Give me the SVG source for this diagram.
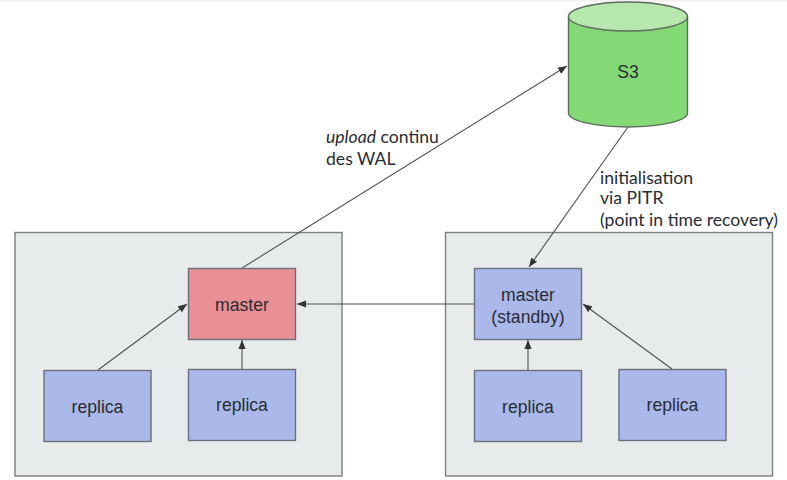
<svg xmlns="http://www.w3.org/2000/svg" width="787" height="480" viewBox="0 0 787 480">
<style>
.bg{fill:#fff}
.zone{fill:#e8ebec;stroke:#7f7f7f;stroke-width:1.4}
.box{stroke:#6b6f7a;stroke-width:1.4}
.blue{fill:#abb9ea}
.red{fill:#e98f96}
.t{font-family:"Liberation Sans",Arial,sans-serif;font-size:17.6px;fill:#282c33;text-anchor:middle}
.l{font-family:Lato,"Liberation Sans",sans-serif;font-size:17.6px;fill:#282c33}
.c{stroke:#4f4f4f;stroke-width:1.1;fill:none;marker-end:url(#a)}
</style>
<defs>
<marker id="a" viewBox="0 0 10 8" refX="10" refY="4" markerUnits="userSpaceOnUse" markerWidth="9" markerHeight="8" orient="auto"><path d="M0 0L10 4L0 8Z" fill="#333"/></marker>
</defs>
<rect class="bg" width="787" height="480"/>
<rect width="787" height="2" fill="#f3f3f3"/>
<g id="zone-left"><rect class="zone" x="15" y="232.500" width="327" height="243.500"/></g>
<g id="zone-right"><rect class="zone" x="445.500" y="232.500" width="327" height="243.500"/></g>
<g id="connectors">
<path class="c" d="M242 268L567 66"/>
<path class="c" d="M628 127L529 267"/>
<path class="c" d="M474 304L297 304"/>
<path class="c" d="M98 370L187 304"/>
<path class="c" d="M242 369L242 340"/>
<path class="c" d="M528 370L528 340"/>
<path class="c" d="M672 369L583 304"/>
</g>
<g id="s3">
<path d="M568.500 16V113A59.500 14 0 0 0 687.500 113V16Z" fill="#84d977" stroke="#5f6b5f" stroke-width="1.400"/>
<ellipse cx="628" cy="16.500" rx="59.500" ry="14.500" fill="#b6e8ae" stroke="#5f6b5f" stroke-width="1.400"/>
<text class="t" x="628" y="78">S3</text>
</g>
<g id="master-left"><rect class="box red" x="188.500" y="268.500" width="107" height="71"/><text class="t" x="242" y="311">master</text></g>
<g id="replica-1"><rect class="box blue" x="44" y="370.500" width="107" height="71"/><text class="t" x="97.500" y="412.500">replica</text></g>
<g id="replica-2"><rect class="box blue" x="188.500" y="369.500" width="107" height="71"/><text class="t" x="242" y="410.500">replica</text></g>
<g id="master-standby"><rect class="box blue" x="474.500" y="268.500" width="107" height="71"/><text class="t" x="528" y="300.500">master</text><text class="t" x="528" y="322.500">(standby)</text></g>
<g id="replica-3"><rect class="box blue" x="474.500" y="370.500" width="107" height="71"/><text class="t" x="528" y="412.500">replica</text></g>
<g id="replica-4"><rect class="box blue" x="619" y="369.500" width="107" height="71"/><text class="t" x="672.500" y="410.500">replica</text></g>
<g id="labels">
<text class="l" x="326" y="142.500"><tspan font-style="italic">upload</tspan> continu</text>
<text class="l" x="326" y="164.500">des WAL</text>
<text class="l" x="600" y="184">initialisation</text>
<text class="l" x="600" y="204">via PITR</text>
<text class="l" x="600" y="225.500">(point in time recovery)</text>
</g>
</svg>
